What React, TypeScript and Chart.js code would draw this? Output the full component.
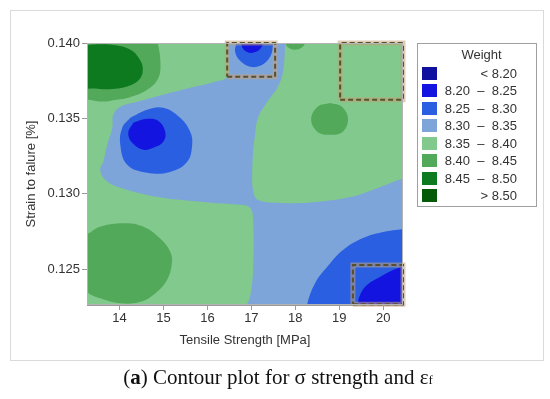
import React, { useEffect, useRef } from 'react';
import { Chart, registerables } from 'chart.js';

Chart.register(...registerables);

type Pt = [number, number];

// ---- axes ----
const xTicks = [14, 15, 16, 17, 18, 19, 20];
const yTicks = [0.125, 0.13, 0.135, 0.14];
const xRange: Pt = [13.26, 20.45];
const yRange: Pt = [0.12263, 0.14];

// ---- legend levels ----
const levelLabels = ['< 8.20', '8.20  \u2013  8.25', '8.25  \u2013  8.30', '8.30  \u2013  8.35', '8.35  \u2013  8.40', '8.40  \u2013  8.45', '8.45  \u2013  8.50', '> 8.50'];
const levelColors = ['#10109e', '#1414e0', '#2a5fe2', '#7ea5d9', '#81c98c', '#53a95a', '#0d7a1f', '#055a08'];

// ---- contour outlines (x: tensile strength MPa, y: strain) ----
const fullArea: Pt[] = [[13.0, 0.1215], [20.7, 0.1215], [20.7, 0.1410], [13.0, 0.1410]];

const band830: Pt[] = [
  [16.47, 0.1406], [17.77, 0.1406], [17.77, 0.14009], [17.72, 0.13809], [17.59, 0.13703], [17.36, 0.1361],
  [17.15, 0.13504], [17.085, 0.13391], [17.04, 0.13278], [17.02, 0.13125], [17.04, 0.13026], [17.15, 0.1296],
  [17.68, 0.1294], [18.47, 0.12946], [19.27, 0.1298], [19.93, 0.13046], [20.47, 0.13106], [20.65, 0.1312],
  [20.65, 0.1215], [16.9, 0.1215], [16.903, 0.12263], [16.97, 0.12315], [17.04, 0.12495], [17.04, 0.12827],
  [16.97, 0.12907], [16.74, 0.12927], [16.13, 0.1294], [15.38, 0.1296], [14.63, 0.12993], [14.02, 0.1304],
  [13.68, 0.13092], [13.56, 0.13159], [13.63, 0.13212], [13.72, 0.13325], [13.835, 0.13438], [13.858, 0.13524],
  [14.02, 0.13577], [14.4, 0.1361], [14.99, 0.13657], [15.61, 0.13703], [16.13, 0.1374], [16.45, 0.13776],
  [16.47, 0.139],
];

const upperLeft840: Pt[] = [
  [13.1, 0.1406], [14.79, 0.1406], [14.86, 0.14009], [14.93, 0.13876], [14.88, 0.13766], [14.63, 0.1369],
  [14.2, 0.13637], [13.93, 0.13624], [13.63, 0.13612], [13.29, 0.13624], [13.1, 0.1363],
];

const upperLeft845: Pt[] = [
  [13.1, 0.1398], [13.45, 0.1399], [13.9, 0.13985], [14.25, 0.13955], [14.45, 0.13895], [14.53, 0.1383],
  [14.46, 0.13762], [14.2, 0.13715], [13.85, 0.13695], [13.5, 0.13697], [13.1, 0.1372],
];

const lowerLeft840: Pt[] = [
  [13.296, 0.12738], [13.562, 0.12782], [14.092, 0.12805], [14.546, 0.12782], [14.92, 0.12705], [15.153, 0.12616],
  [15.19, 0.12539], [15.08, 0.12428], [14.812, 0.1234], [14.471, 0.12284], [14.017, 0.12274], [13.562, 0.12307],
  [13.26, 0.12351], [13.08, 0.1245], [13.05, 0.1257], [13.1, 0.1267],
];

const right840: Pt[] = [
  [18.79, 0.13603], [19.05, 0.1358], [19.2, 0.13497], [19.08, 0.13412], [18.79, 0.13391], [18.5, 0.13412],
  [18.36, 0.13497], [18.52, 0.1358],
];

const top840: Pt[] = [
  [17.75, 0.1402], [17.82, 0.13975], [17.99, 0.13955], [18.17, 0.13975], [18.23, 0.1402], [18.2, 0.1407], [17.78, 0.1407],
];

const left825: Pt[] = [
  [14.244, 0.13504], [14.63, 0.13557], [14.994, 0.1357], [15.38, 0.13504], [15.608, 0.13411], [15.653, 0.13325],
  [15.54, 0.13212], [15.153, 0.13145], [14.63, 0.13139], [14.176, 0.13192], [14.017, 0.13325], [14.062, 0.13438],
];

const left820: Pt[] = [
  [14.312, 0.13471], [14.63, 0.13497], [14.88, 0.13484], [15.04, 0.13411], [14.994, 0.13345], [14.767, 0.13305],
  [14.54, 0.13292], [14.29, 0.13338], [14.199, 0.13404],
];

const top825: Pt[] = [
  [16.62, 0.1406], [16.653, 0.14002], [16.63, 0.13942], [16.744, 0.13882], [16.971, 0.13843], [17.199, 0.13849],
  [17.381, 0.13889], [17.472, 0.13942], [17.494, 0.14002], [17.5, 0.1406],
];

const top820: Pt[] = [
  [16.74, 0.1406], [16.767, 0.14002], [16.812, 0.13962], [16.948, 0.13936], [17.108, 0.13942], [17.222, 0.13969],
  [17.267, 0.14002], [17.3, 0.1406],
];

const bottomRight825: Pt[] = [
  [18.25, 0.1215], [18.267, 0.12263], [18.449, 0.12408], [18.722, 0.12515], [19.085, 0.12628], [19.54, 0.12707],
  [19.994, 0.12747], [20.449, 0.12767], [20.65, 0.1278], [20.65, 0.1215],
];

const bottomRight820: Pt[] = [
  [19.42, 0.1215], [19.426, 0.12263], [19.472, 0.12329], [19.63, 0.12395], [19.926, 0.12448], [20.222, 0.12495],
  [20.449, 0.12515], [20.65, 0.1252], [20.65, 0.1215],
];

// drawing order, bottom layer first: [outline, level index, smooth]
const contourLayers: [Pt[], number, boolean][] = [
  [fullArea, 4, false],
  [band830, 3, true],
  [upperLeft840, 5, true],
  [upperLeft845, 6, true],
  [lowerLeft840, 5, true],
  [right840, 5, true],
  [top840, 5, true],
  [left825, 2, true],
  [left820, 1, true],
  [top825, 2, true],
  [top820, 1, true],
  [bottomRight825, 2, true],
  [bottomRight820, 1, true],
];

// highlighted rectangles [x1, y1, x2, y2]
const highlightBoxes: [number, number, number, number][] = [
  [16.45, 0.13776, 17.54, 0.14],
  [19.02, 0.13623, 20.45, 0.14],
  [19.31, 0.12268, 20.45, 0.12528],
];

const FONT = '"Liberation Sans", Arial, sans-serif';

const plotBorder = {
  id: 'plotBorder',
  afterDatasetsDraw(chart: any) {
    const { ctx, chartArea: a } = chart;
    ctx.save();
    ctx.strokeStyle = '#b4b4b4';
    ctx.lineWidth = 1;
    ctx.strokeRect(a.left + 0.5, a.top + 0.5, a.right - a.left - 1, a.bottom - a.top - 1);
    ctx.restore();
  },
};

export default function App() {
  const ref = useRef<HTMLCanvasElement>(null);

  useEffect(() => {
    const canvas = ref.current;
    if (!canvas) return;
    const datasets: any[] = [];
    contourLayers.forEach(([outline, level, smooth]) => {
      const closed = [...outline, outline[0]];
      datasets.push({
        data: closed.map(([x, y]) => ({ x, y })),
        showLine: true,
        fill: 'shape',
        backgroundColor: levelColors[level],
        borderColor: levelColors[level],
        borderWidth: 0,
        pointRadius: 0,
        pointHoverRadius: 0,
        tension: smooth ? 0.4 : 0,
        capBezierPoints: false,
      });
    });
    highlightBoxes.forEach(([x1, y1, x2, y2]) => {
      const pts = [[x1, y1], [x2, y1], [x2, y2], [x1, y2], [x1, y1]].map(([x, y]) => ({ x, y }));
      datasets.push({
        data: pts, showLine: true, fill: false, borderColor: 'rgba(195,160,120,0.55)', borderWidth: 5,
        pointRadius: 0, pointHoverRadius: 0, tension: 0, clip: false,
      });
      datasets.push({
        data: pts, showLine: true, fill: false, borderColor: '#58502c', borderWidth: 2, borderDash: [5, 3],
        pointRadius: 0, pointHoverRadius: 0, tension: 0, clip: false,
      });
    });
    const n = datasets.length;
    datasets.forEach((d, i) => { d.order = n - i; });

    const tickFont = { family: FONT, size: 13 };
    const chart = new Chart(canvas, {
      type: 'scatter',
      data: { datasets },
      options: {
        animation: false,
        responsive: false,
        events: [],
        layout: { padding: { left: 0, top: 43, right: 147, bottom: 51 } },
        plugins: { legend: { display: false }, tooltip: { enabled: false }, title: { display: false } },
        scales: {
          x: {
            type: 'linear',
            min: xRange[0],
            max: xRange[1],
            afterBuildTicks: (axis: any) => { axis.ticks = xTicks.map((v) => ({ value: v })); },
            afterFit: (axis: any) => { axis.height = 43; },
            ticks: { font: tickFont, color: '#333', padding: 1, maxRotation: 0, autoSkip: false, callback: (v: any) => String(v) },
            grid: { drawOnChartArea: false, drawTicks: true, tickLength: 5, color: '#9a9a9a' },
            border: { display: true, color: '#9a9a9a' },
            title: { display: true, text: 'Tensile Strength [MPa]', font: tickFont, color: '#333', padding: 0 },
          },
          y: {
            type: 'linear',
            min: yRange[0],
            max: yRange[1],
            afterBuildTicks: (axis: any) => { axis.ticks = yTicks.map((v) => ({ value: v })); },
            afterFit: (axis: any) => { axis.width = 87; },
            ticks: { font: tickFont, color: '#333', padding: 2, autoSkip: false, callback: (v: any) => Number(v).toFixed(3) },
            grid: { drawOnChartArea: false, drawTicks: true, tickLength: 5, color: '#9a9a9a' },
            border: { display: true, color: '#9a9a9a' },
            title: { display: true, text: 'Strain to falure [%]', font: tickFont, color: '#333', padding: { top: 24, bottom: 0 } },
          },
        },
      } as any,
      plugins: [plotBorder],
    });
    return () => chart.destroy();
  }, []);

  return (
    <div style={{ position: 'absolute', left: 0, top: 0, width: 550, height: 399, background: '#fff', overflow: 'hidden' }}>
      <div style={{ position: 'absolute', left: 10, top: 10, width: 534, height: 351, border: '1px solid #dadada', boxSizing: 'border-box' }} />
      <canvas ref={ref} width={550} height={399} style={{ position: 'absolute', left: 0, top: 0 }} />
      <div style={{ position: 'absolute', left: 417, top: 43, width: 120, height: 164, border: '1px solid #a0a0a0', boxSizing: 'border-box', background: '#fff', fontFamily: FONT, fontSize: 13, color: '#333' }}>
        <div style={{ position: 'absolute', left: 0, top: 2, width: 127, textAlign: 'center', lineHeight: '17px' }}>Weight</div>
        {levelLabels.map((lab, i) => (
          <React.Fragment key={lab}>
            <div style={{ position: 'absolute', left: 4, top: 23 + i * 17.45, width: 15, height: 13, background: levelColors[i] }} />
            <div style={{ position: 'absolute', left: 20, top: 21 + i * 17.45, width: 79, textAlign: 'right', lineHeight: '17px', whiteSpace: 'pre' }}>{lab}</div>
          </React.Fragment>
        ))}
      </div>
      <div style={{ position: 'absolute', left: 3, top: 364, width: 550, textAlign: 'center', fontFamily: '"Liberation Serif", "Times New Roman", serif', fontSize: 21, lineHeight: '26px', color: '#111' }}>
        (<b>a</b>) Contour plot for σ strength and ε<span style={{ fontSize: '0.62em' }}>f</span>
      </div>
    </div>
  );
}
